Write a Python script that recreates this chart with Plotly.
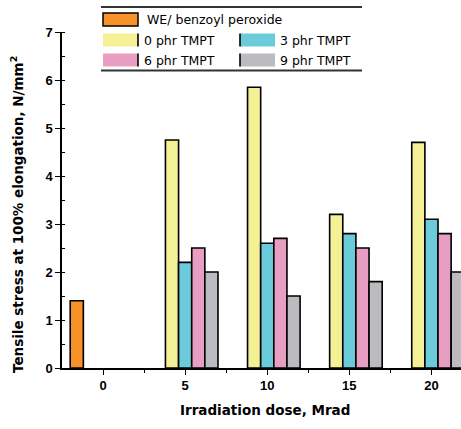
import plotly.graph_objects as go

doses = [5, 10, 15, 20]
we_dose = [0]
we_value = [1.4]
phr0 = [4.75, 5.85, 3.2, 4.7]
phr3 = [2.2, 2.6, 2.8, 3.1]
phr6 = [2.5, 2.7, 2.5, 2.8]
phr9 = [2.0, 1.5, 1.8, 2.0]
names = ["WE/ benzoyl peroxide", "0 phr TMPT", "3 phr TMPT", "6 phr TMPT", "9 phr TMPT"]
colors = ["#F7922A", "#F4F096", "#6CCBDB", "#E89DC3", "#BBBCC0"]
xticks = [0, 5, 10, 15, 20]
yticks = [0, 1, 2, 3, 4, 5, 6, 7]

W, H = 461, 429
L, R, T, B = 62, 0, 32, 61
pw, ph = W - L - R, H - T - B

fig = go.Figure()
series = [(we_dose, we_value), (doses, phr0), (doses, phr3), (doses, phr6), (doses, phr9)]
for (xs, ys), n, c in zip(series, names, colors):
    fig.add_trace(go.Bar(x=xs, y=ys, name=n, marker=dict(color=c, line=dict(color="black", width=1.6)),
                         showlegend=False))

def px(x):
    return (x - L) / pw

def py(y):
    return (T + ph - y) / ph

shapes = []
annotations = []
shapes.append(dict(type="line", xref="paper", yref="paper", x0=px(101), x1=px(362), y0=py(7), y1=py(7),
                   line=dict(color="#333", width=2)))
shapes.append(dict(type="line", xref="paper", yref="paper", x0=px(101), x1=px(362), y0=py(70.5), y1=py(70.5),
                   line=dict(color="#333", width=2)))
entries = [
    (0, 103, 19.5, "full", 145),
    (1, 103, 40, "right", 142),
    (2, 240, 40, "left", 278),
    (3, 103, 60, "right", 142),
    (4, 240, 60, "left", 278),
]
for idx, x0, yc, border, tx in entries:
    x1 = x0 + 35
    y0, y1 = yc - 6.5, yc + 6.5
    if border == "full":
        shapes.append(dict(type="rect", xref="paper", yref="paper", x0=px(x0), x1=px(x1), y0=py(y1), y1=py(y0),
                           fillcolor=colors[idx], line=dict(color="black", width=1.5)))
    else:
        shapes.append(dict(type="rect", xref="paper", yref="paper", x0=px(x0), x1=px(x1), y0=py(y1), y1=py(y0),
                           fillcolor=colors[idx], line=dict(width=0)))
        lx = x1 if border == "right" else x0
        shapes.append(dict(type="line", xref="paper", yref="paper", x0=px(lx), x1=px(lx), y0=py(y1), y1=py(y0),
                           line=dict(color="black", width=1.6)))
    annotations.append(dict(text=names[idx], xref="paper", yref="paper", x=px(tx), y=py(yc),
                            xanchor="left", yanchor="middle", showarrow=False,
                            font=dict(size=12.5, color="black", family="DejaVu Sans")))

annotations.append(dict(text="<b>Tensile stress at 100% elongation, N/mm<sup>2</sup></b>", xref="paper", yref="paper",
                        x=px(17), y=py(215), xanchor="center", yanchor="middle", textangle=-90, showarrow=False,
                        font=dict(size=13.5, color="black", family="DejaVu Sans")))
annotations.append(dict(text="<b>Irradiation dose, Mrad</b>", xref="paper", yref="paper",
                        x=px(265), y=py(410), xanchor="center", yanchor="middle", showarrow=False,
                        font=dict(size=13.5, color="black", family="DejaVu Sans")))

fig.update_layout(
    width=W, height=H, margin=dict(l=L, r=R, t=T, b=B),
    paper_bgcolor="white", plot_bgcolor="white",
    barmode="group", bargap=0.2, bargroupgap=0,
    shapes=shapes, annotations=annotations,
    font=dict(family="Liberation Sans", color="black"),
)
fig.update_xaxes(range=[-2.5, 21.8], tickvals=xticks, ticktext=[f"<b>{v}</b>" for v in xticks],
                 ticks="outside", ticklen=5, tickwidth=1.3, tickcolor="black",
                 minor=dict(tickvals=[2.5, 7.5, 12.5, 17.5], ticks="outside", ticklen=3, tickcolor="black", tickwidth=1.3),
                 showline=True, linecolor="black", linewidth=1.5, showgrid=False, zeroline=False,
                 tickfont=dict(size=13, family="Liberation Sans", color="black"), fixedrange=True)
fig.update_yaxes(range=[0, 7], tickvals=yticks, ticktext=[f"<b>{v}</b>" for v in yticks],
                 ticks="outside", ticklen=5, tickwidth=1.3, tickcolor="black",
                 minor=dict(dtick=0.5, ticks="inside", ticklen=3, tickcolor="black", tickwidth=1.3),
                 showline=True, linecolor="black", linewidth=1.5, showgrid=False, zeroline=False,
                 tickfont=dict(size=13, family="Liberation Sans", color="black"), fixedrange=True)

fig.write_html("out.html", config={"displayModeBar": False})
